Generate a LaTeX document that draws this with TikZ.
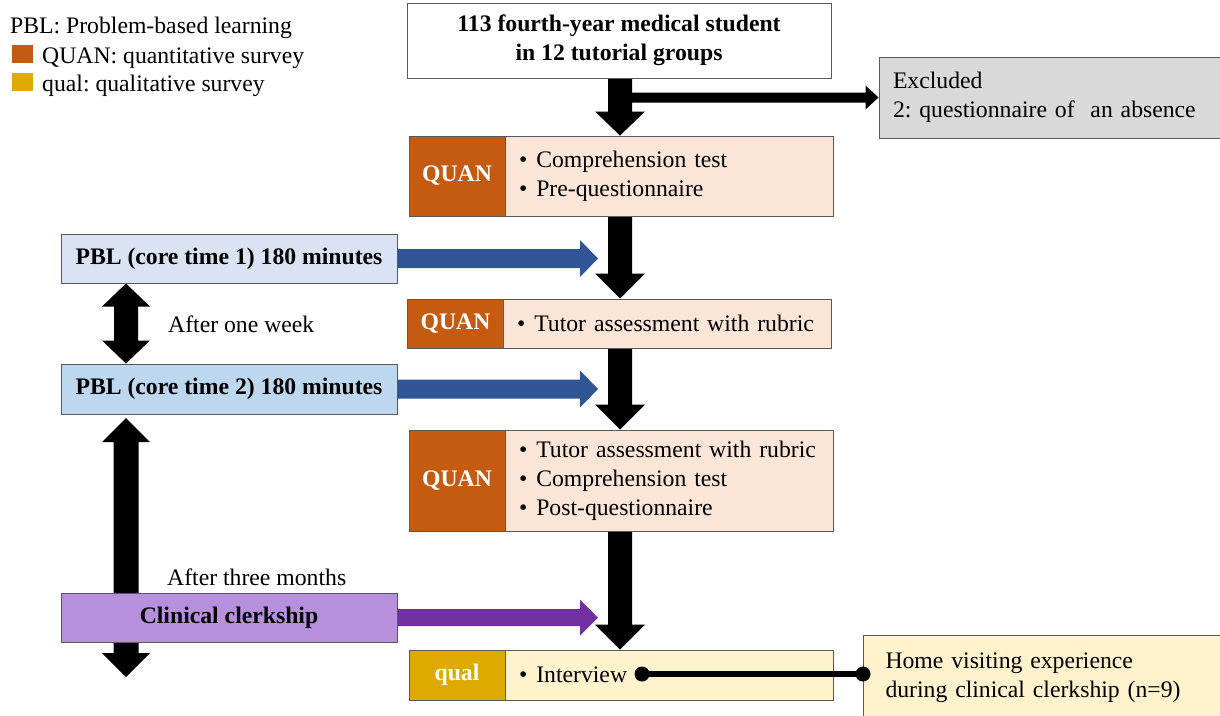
\documentclass[tikz,border=0pt]{standalone}
\usepackage{fontspec}
\setmainfont{Liberation Serif}
\frenchspacing
\usetikzlibrary{calc,backgrounds}
\definecolor{quan}{HTML}{C55A11}
\definecolor{peach}{HTML}{FBE5D6}
\definecolor{exgray}{HTML}{D9D9D9}
\definecolor{pblone}{HTML}{DAE3F3}
\definecolor{pbltwo}{HTML}{BDD7EE}
\definecolor{bluearr}{HTML}{2F5597}
\definecolor{clerkc}{RGB}{183,143,221}
\definecolor{purparr}{HTML}{7030A0}
\definecolor{qualc}{RGB}{222,170,0}
\definecolor{cream}{HTML}{FFF2CC}
\definecolor{edgec}{HTML}{595959}

% #1 from, #2 tip, #3 colour, #4 shaft half width, #5 head half width, #6 head length
\newcommand{\blkdown}[6]{\fill[#3] ($(#1)+(-#4,0)$) -- ($(#2)+(-#4,-#6)$) -- ($(#2)+(-#5,-#6)$) -- (#2) -- ($(#2)+(#5,-#6)$) -- ($(#2)+(#4,-#6)$) -- ($(#1)+(#4,0)$) -- cycle;}
\newcommand{\blkright}[6]{\fill[#3] ($(#1)+(0,-#4)$) -- ($(#2)+(-#6,-#4)$) -- ($(#2)+(-#6,-#5)$) -- (#2) -- ($(#2)+(-#6,#5)$) -- ($(#2)+(-#6,#4)$) -- ($(#1)+(0,#4)$) -- cycle;}
% #1 top tip, #2 bottom tip, #3 shaft half, #4 head half, #5 head length
\newcommand{\blkupdown}[5]{\fill[black] (#1) -- ($(#1)+(#4,#5)$) -- ($(#1)+(#3,#5)$) -- ($(#2)+(#3,-#5)$) -- ($(#2)+(#4,-#5)$) -- (#2) -- ($(#2)+(-#4,-#5)$) -- ($(#2)+(-#3,-#5)$) -- ($(#1)+(-#3,#5)$) -- ($(#1)+(-#4,#5)$) -- cycle;}
\newcommand{\bul}[1]{\mbox{\textbullet\hspace{0.38em}#1}}

\begin{document}
\begin{tikzpicture}[x=1pt,y=-1pt,
  txt/.style={font=\fontsize{23.7}{29}\selectfont, inner sep=0pt},
  box/.style={draw=edgec, line width=1pt, inner sep=0pt, font=\fontsize{23.7}{29}\selectfont},
  bbox/.style={box, font=\fontsize{23.7}{29}\selectfont\bfseries},
  tag/.style={box, font=\fontsize{23.7}{29}\selectfont\bfseries, text=white, minimum width=96pt},
  body/.style={box, align=left, text width=300pt, inner xsep=14pt, minimum height=#1},
  sq/.style={inner sep=0pt, minimum width=21pt, minimum height=18pt}
]
\clip (0,0) rectangle (1220,715);

% legend
\node[txt, anchor=base west] (leg1) at (10,33) {PBL: Problem-based learning};
\node[sq, fill=quan] (sq1) at (22.5,53.5) {};
\node[txt, anchor=base west] (leg2) at (42,63) {QUAN: quantitative survey};
\node[sq, fill=qualc] (sq2) at (22.5,81.5) {};
\node[txt, anchor=base west] (leg3) at (42,91) {qual: qualitative survey};

% main column
\node[bbox, fill=white, minimum width=424pt, minimum height=75pt, align=center] (top) at (619,40.5) {113 fourth-year medical student\\in 12 tutorial groups};
\node[box, fill=exgray, minimum width=341pt, minimum height=81pt, text width=313pt, inner xsep=14pt, align=left] (excl) at (1049.5,97.5) {Excluded\\\mbox{2: questionnaire of\ \ an absence}};

\node[tag, fill=quan, minimum height=80pt] (q1t) at (457,176) {QUAN};
\node[body=80pt, fill=peach] (q1b) at (669,176) {\bul{Comprehension test}\\\bul{Pre-questionnaire}};

\node[tag, fill=quan, minimum height=49pt] (q2t) at (455.5,323.5) {QUAN};
\node[body=49pt, fill=peach] (q2b) at (667,323.5) {\bul{Tutor assessment with rubric}};

\node[tag, fill=quan, minimum height=101pt] (q3t) at (457,480.5) {QUAN};
\node[body=101pt, fill=peach] (q3b) at (669,480.5) {\bul{Tutor assessment with rubric}\\\bul{Comprehension test}\\\bul{Post-questionnaire}};

\node[tag, fill=qualc, minimum height=50pt] (qt) at (457,675) {qual};
\node[body=50pt, fill=cream] (qb) at (669,675) {\bul{Interview}};

\node[box, fill=cream, anchor=north west, minimum width=362pt, minimum height=85pt, text width=318pt, inner xsep=22pt, align=left] (home) at (863,635) {Home visiting experience\\during clinical clerkship (n=9)};

% left column
\node[bbox, fill=pblone, minimum width=336pt, minimum height=49pt] (pbl1) at (229,258.5) {PBL (core time 1) 180 minutes};
\node[bbox, fill=pbltwo, minimum width=336pt, minimum height=50pt] (pbl2) at (229,389) {PBL (core time 2) 180 minutes};
\node[bbox, fill=clerkc, minimum width=336pt, minimum height=49pt] (clerk) at (229,617.5) {Clinical clerkship};
\node[txt, anchor=west] (week) at (168,324) {After one week};
\node[txt, anchor=west] (months) at (167,577) {After three months};

\coordinate (col) at (620,0);
\coordinate (tipx) at (598,0);
\coordinate (lcol) at (126,0);
\coordinate (bigtop) at (126,418);
\coordinate (bigend) at (126,677);
\coordinate (idot) at (642,674);

\begin{scope}[on background layer]
\blkdown{top.south -| col}{q1b.north -| col}{black}{12}{25}{24}
\blkright{excl.west -| col}{excl.west}{black}{5}{12}{13}
\blkdown{q1b.south -| col}{q2b.north -| col}{black}{12}{25}{25}
\blkdown{q2b.south -| col}{q3b.north -| col}{black}{12}{25}{25}
\blkdown{q3b.south -| col}{qb.north -| col}{black}{12}{25}{25}
\blkright{pbl1.east}{pbl1.east -| tipx}{bluearr}{9.5}{18.5}{18}
\blkright{pbl2.east}{pbl2.east -| tipx}{bluearr}{9.5}{18.5}{18}
\blkright{clerk.east}{clerk.east -| tipx}{purparr}{8.5}{18}{18}
\blkupdown{pbl1.south -| lcol}{pbl2.north -| lcol}{12}{24}{23}
\blkupdown{bigtop}{bigend}{12.5}{24}{24}
\end{scope}

% interview connector
\draw[line width=5.5pt] (idot) -- (idot -| home.west);
\fill (idot) circle[radius=7.5pt];
\fill (idot -| home.west) circle[radius=7.5pt];
\end{tikzpicture}
\end{document}
